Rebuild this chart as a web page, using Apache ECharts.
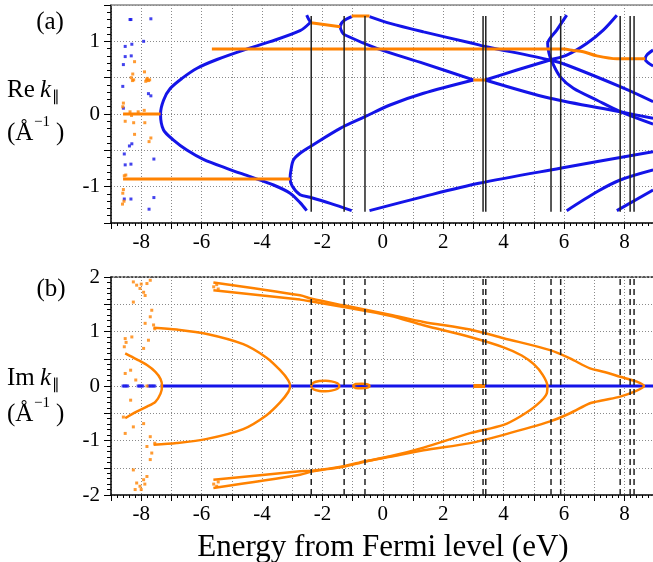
<!DOCTYPE html>
<html lang="en">
  <head>
    <meta charset="UTF-8" />
    <title>complex band structure</title>
    <style>
      html, body { margin: 0; padding: 0; background: #fff; }
      #main { width: 653px; height: 562px; }
    </style>
  </head>
  <body>
    <div id="main"></div>
    <script src="https://cdn.jsdelivr.net/npm/echarts@6/dist/echarts.min.js"></script>
    <script>
      // energies of the vertical marker lines (eV)
      const vLines = [-2.37, -1.28, -0.59, 3.32, 3.41, 5.57, 5.89, 7.86, 8.19, 8.32];

      // (a) Re k, blue branches [E, k]
      const reA = [[-2.41,1.256],[-2.74,1.146],[-3.73,0.995],[-4.61,0.88],[-5.49,0.75],[-6.15,0.63],[-6.65,0.49],[-7.04,0.35],[-7.26,0.19],[-7.36,0.0],[-7.26,-0.22],[-6.93,-0.358],[-6.49,-0.495],[-5.94,-0.623],[-5.17,-0.747],[-4.39,-0.862],[-3.62,-0.977],[-3.07,-1.09],[-2.74,-1.22],[-2.52,-1.33]];
      const reStub = [[-2.52,1.36],[-2.45,1.3],[-2.38,1.256]];
      const reC = [[-1.03,1.34],[-1.3,1.28],[-1.41,1.2],[-1.35,1.13],[-1.25,1.087],[-0.2,0.904],[1.35,0.697],[3.0,0.47]];
      const reD = [[-0.44,1.34],[0.24,1.247],[1.35,1.13],[2.89,0.98],[3.39,0.93],[5.54,0.743],[6.09,0.674],[7.86,0.376],[8.95,0.17]];
      const reB = [[-1.03,-1.33],[-1.74,-1.23],[-2.41,-1.146],[-2.74,-1.11],[-3.0,-0.99],[-3.07,-0.88],[-3.04,-0.77],[-2.96,-0.633],[-2.74,-0.54],[-2.41,-0.45],[-1.41,-0.197],[-0.59,-0.037],[0.24,0.124],[1.35,0.285],[3.0,0.468]];
      const reE = [[3.39,0.468],[4.44,0.605],[5.54,0.743],[6.09,0.81],[6.75,0.97],[7.3,1.155],[7.75,1.36]];
      const reF = [[3.39,0.468],[5.54,0.216],[7.86,0.03],[8.95,-0.06]];
      const reG = [[6.09,1.36],[5.76,1.155],[5.46,0.97],[5.5,0.84],[5.6,0.72],[5.87,0.514],[6.31,0.354],[7.08,0.193],[7.86,0.033],[8.95,-0.138]];
      const reH = [[-0.44,-1.33],[1.35,-1.137],[3.18,-0.954],[5.87,-0.747],[8.95,-0.518]];
      const reI = [[6.09,-1.33],[7.09,-1.07],[7.86,-0.908],[8.95,-0.77]];
      const reJ = [[7.75,-1.33],[8.95,-1.045]];
      const reK = [[8.95,0.88],[8.74,0.81],[8.69,0.75],[8.8,0.7],[8.95,0.66]];

      // (a) Re k, orange (complex) branches
      const reO1 = [[-5.66,0.894],[6.0,0.894],[6.3,0.875],[6.64,0.857],[7.09,0.8],[7.75,0.761],[8.69,0.761]];
      const reO2 = [[-8.6,-0.894],[-3.07,-0.894]];
      const reO3 = [[-8.6,0],[-7.36,0]];
      const reO4 = [[-2.38,1.256],[-1.41,1.2]];
      const reO5 = [[-1.03,1.348],[-0.44,1.348]];
      const reO6 = [[3.0,0.468],[3.39,0.468]];

      // scattered points near -8 eV
      const reBlueDots = [[-8.34,1.3],[-8.37,1.3],[-7.68,1.31],[-8.31,0.96],[-8.53,0.93],[-7.92,1.0],[-8.33,0.8],[-8.53,0.79],[-8.59,0.68],[-8.61,0.38],[-7.76,0.28],[-7.68,0.25],[-8.59,0.08],[-8.31,-0.41],[-8.39,-0.44],[-8.56,-0.55],[-7.58,-0.62],[-8.53,-0.7],[-8.34,-0.69],[-8.56,-1.17],[-8.34,-1.17],[-7.58,-1.15],[-7.74,-1.31]];
      const reOrangeDots = [[-8.22,0.72],[-8.28,0.55],[-8.33,0.5],[-8.25,0.47],[-8.29,0.46],[-7.89,0.58],[-7.82,0.47],[-7.76,0.46],[-7.72,0.47],[-7.85,0.45],[-7.8,0.49],[-8.59,0.15],[-8.61,0.1],[-8.37,0.03],[-8.32,-0.02],[-8.53,-0.1],[-8.25,-0.12],[-7.88,-0.12],[-8.22,-0.28],[-7.68,-0.33],[-7.74,-0.38],[-8.56,-0.85],[-8.51,-0.84],[-8.59,-1.04],[-8.61,-1.09],[-8.57,-1.2],[-8.62,-1.24],[-7.9,0.05],[-8.1,0.03]];

      // (b) Im k
      const imBlue = [[-7.36,0],[9,0]];
      const imBlueDots = [[-8.6,0],[-8.55,0],[-8.5,0],[-8.45,0],[-8.1,0],[-8.05,0],[-8.0,0],[-7.95,0],[-7.75,0],[-7.7,0],[-7.65,0],[-7.6,0],[-7.55,0]];
      const imC = [[-8.53,0.6],[-8.15,0.49],[-7.81,0.384],[-7.53,0.26],[-7.36,0.13],[-7.31,0],[-7.36,-0.14],[-7.53,-0.29],[-7.81,-0.38],[-8.15,-0.47],[-8.53,-0.59]];
      const imD = [[-7.59,1.07],[-6.82,1.036],[-5.82,0.955],[-4.62,0.768],[-3.86,0.524],[-3.4,0.29],[-3.13,0.104],[-3.07,0],[-3.13,-0.11],[-3.4,-0.3],[-3.86,-0.54],[-4.62,-0.79],[-5.82,-0.97],[-6.82,-1.048],[-7.59,-1.08]];
      const imF1 = [[-5.61,1.9],[-2.74,1.664],[-2.35,1.6],[-1.3,1.48],[0.24,1.31],[1.35,1.176],[2.89,1.036],[4.0,0.877],[5.54,0.658],[6.2,0.506],[6.86,0.323],[7.3,0.262],[7.86,0.17],[8.41,0.079],[8.65,0],[8.41,-0.085],[7.86,-0.195],[7.3,-0.26],[6.86,-0.317],[6.2,-0.5],[5.54,-0.65],[4.0,-0.896],[2.89,-1.048],[1.35,-1.18],[0.24,-1.3],[-0.59,-1.39],[-1.3,-1.48],[-2.35,-1.57],[-2.74,-1.627],[-5.61,-1.87]];
      const imF2 = [[-5.61,1.755],[-2.74,1.585],[-2.35,1.55],[-1.3,1.45],[0.24,1.29],[1.35,1.115],[2.89,0.9],[4.0,0.71],[4.6,0.56],[5.0,0.4],[5.3,0.2],[5.45,0],[5.43,-0.134],[5.1,-0.347],[4.55,-0.56],[4.0,-0.713],[2.89,-0.865],[1.35,-1.13],[0.24,-1.29],[-0.59,-1.38],[-1.3,-1.47],[-2.35,-1.555],[-2.74,-1.566],[-5.61,-1.72]];
      const imLoop1 = [[-2.38,0],[-2.3,0.06],[-2.1,0.09],[-1.9,0.095],[-1.7,0.085],[-1.5,0.05],[-1.44,0],[-1.5,-0.05],[-1.7,-0.085],[-1.9,-0.095],[-2.1,-0.09],[-2.3,-0.06],[-2.38,0]];
      const imLoop2 = [[-1.0,0],[-0.9,0.035],[-0.7,0.04],[-0.5,0.03],[-0.44,0],[-0.5,-0.03],[-0.7,-0.04],[-0.9,-0.035],[-1.0,0]];
      const imShort = [[3.0,0],[3.39,0]];
      const imOrangeDots = [[-8.26,1.91],[-8.15,1.85],[-8.04,1.79],[-7.92,1.72],[-7.87,1.66],[-7.81,1.88],[-7.7,1.94],[-8.0,1.87],[-8.26,1.54],[-7.65,1.39],[-7.7,1.27],[-7.87,1.15],[-7.59,1.12],[-7.55,1.05],[-8.53,0.87],[-8.31,0.9],[-7.92,0.69],[-7.76,0.84],[-8.56,0.72],[-8.5,0.8],[-8.35,0.29],[-8.18,0.11],[-8.53,0.23],[-7.81,0.0],[-8.35,-0.26],[-8.59,-0.57],[-8.26,-0.75],[-8.53,-0.87],[-7.92,-0.69],[-7.7,-0.93],[-7.81,-1.11],[-7.65,-1.23],[-7.7,-1.35],[-7.55,-1.05],[-8.26,-1.54],[-8.15,-1.78],[-8.04,-1.84],[-7.92,-1.72],[-7.81,-1.66],[-8.2,-1.9],[-8.0,-1.9],[-7.88,-1.8],[-5.6,1.82],[-5.5,1.86],[-5.45,1.78],[-5.6,-1.8],[-5.5,-1.84],[-5.45,-1.76]];

      const serif = '"Liberation Serif", "Times New Roman", serif';
      const blue = "#1414e8";
      const orange = "#ff8200";

      function curve(data, color, width, gi) {
        return {
          type: "line",
          xAxisIndex: gi,
          yAxisIndex: gi,
          data: data,
          showSymbol: false,
          symbol: "none",
          smooth: 0.3,
          silent: true,
          lineStyle: { color: color, width: width },
        };
      }
      function dots(data, color, gi) {
        return {
          type: "scatter",
          xAxisIndex: gi,
          yAxisIndex: gi,
          data: data,
          symbol: "rect",
          symbolSize: 3,
          silent: true,
          itemStyle: { color: color },
        };
      }

      let series = [];
      // top panel
      [reA, reStub, reC, reD, reB, reE, reF, reG, reH, reI, reJ, reK].forEach((c) => series.push(curve(c, blue, 3, 0)));
      [reO1, reO2, reO3, reO4, reO5, reO6].forEach((c) => series.push(curve(c, orange, 3, 0)));
      series.push(dots(reBlueDots, blue, 0));
      series.push(dots(reOrangeDots, orange, 0));
      // bottom panel
      series.push(curve(imBlue, blue, 3, 1));
      series.push(dots(imBlueDots, blue, 1));
      [imC, imD, imF1, imF2, imLoop1, imLoop2].forEach((c) => series.push(curve(c, orange, 2.5, 1)));
      series.push(curve(imShort, orange, 4, 1));
      series.push(dots(imOrangeDots, orange, 1));
      // vertical markers
      vLines.forEach((e) => {
        let s = curve([[e, -1.345], [e, 1.348]], "#222", 1.5, 0);
        s.smooth = false;
        series.push(s);
        let d = curve([[e, -2], [e, 2]], "#222", 1.5, 1);
        d.smooth = false;
        d.lineStyle.type = [6, 4];
        series.push(d);
      });

      const dotted = { color: "#8a8a8a", width: 1, type: [1, 2] };
      const evenOnly = (v) => (Math.round(v) === v && v % 2 === 0 ? String(v) : "");
      const intOnly = (v) => (Math.abs(v - Math.round(v)) < 1e-9 ? String(Math.round(v)) : "");

      function xAxisMain(gi) {
        return {
          gridIndex: gi,
          type: "value",
          min: -9,
          max: 9,
          interval: 1,
          axisLine: { onZero: false, lineStyle: { color: "#000", width: 1.5 } },
          axisTick: { length: 6, lineStyle: { color: "#000" } },
          minorTick: { show: true, splitNumber: 5, length: 3, lineStyle: { color: "#000" } },
          axisLabel: { formatter: evenOnly, margin: 9, color: "#000", fontFamily: serif, fontSize: 21 },
          splitLine: { show: true, lineStyle: dotted },
        };
      }
      function xAxisTop(gi, style) {
        return {
          gridIndex: gi,
          type: "value",
          position: "top",
          min: -9,
          max: 9,
          axisLine: { onZero: false, lineStyle: style },
          axisTick: { show: false },
          axisLabel: { show: false },
          splitLine: { show: false },
        };
      }
      function yAxisMain(gi, lim) {
        return {
          gridIndex: gi,
          type: "value",
          min: -lim,
          max: lim,
          interval: 0.5,
          axisLine: { onZero: false, lineStyle: { color: "#000", width: 1.5 } },
          axisTick: { length: 7, lineStyle: { color: "#000" } },
          minorTick: { show: true, splitNumber: 5, length: 4, lineStyle: { color: "#000" } },
          axisLabel: { formatter: intOnly, margin: 11, color: "#000", fontFamily: serif, fontSize: 21 },
          splitLine: { show: true, lineStyle: dotted },
        };
      }

      function txt(s, x, y, size, extra) {
        return {
          type: "text",
          x: x,
          y: y,
          silent: true,
          style: Object.assign(
            { text: s, font: size + "px " + serif, fill: "#000", textAlign: "left", textVerticalAlign: "middle" },
            extra || {}
          ),
        };
      }

      let mchart = echarts.init(document.getElementById("main"), null, { renderer: "canvas" });
      let option = {
        animation: false,
        backgroundColor: "#fff",
        grid: [
          { left: 111, top: 5, width: 543.6, height: 218, outerBoundsMode: "none" },
          { left: 111, top: 277, width: 543.6, height: 218, outerBoundsMode: "none" },
        ],
        xAxis: [
          xAxisMain(0),
          xAxisMain(1),
          xAxisTop(0, { color: "#888", width: 1.5 }),
          xAxisTop(1, { color: "#222", width: 1.5, type: [2, 2] }),
        ],
        yAxis: [yAxisMain(0, 1.5), yAxisMain(1, 2)],
        series: series,
        graphic: [
          txt("(a)", 50, 22, 25, { textAlign: "center" }),
          txt("Re", 7, 90, 25),
          txt("k", 40, 90, 25, { font: "italic 25px " + serif }),
          txt("\u2225", 52, 97, 15),
          txt("(\u00c5", 7, 133, 25),
          txt("\u22121", 34, 122, 15),
          txt(")", 56, 133, 25),
          txt("(b)", 51, 289, 25, { textAlign: "center" }),
          txt("Im", 7, 378, 25),
          txt("k", 40, 378, 25, { font: "italic 25px " + serif }),
          txt("\u2225", 52, 385, 15),
          txt("(\u00c5", 7, 414, 25),
          txt("\u22121", 34, 403, 15),
          txt(")", 56, 414, 25),
          txt("Energy from Fermi level (eV)", 383, 548, 31, { textAlign: "center" }),
        ],
      };
      mchart.setOption(option);
    </script>
  </body>
</html>
